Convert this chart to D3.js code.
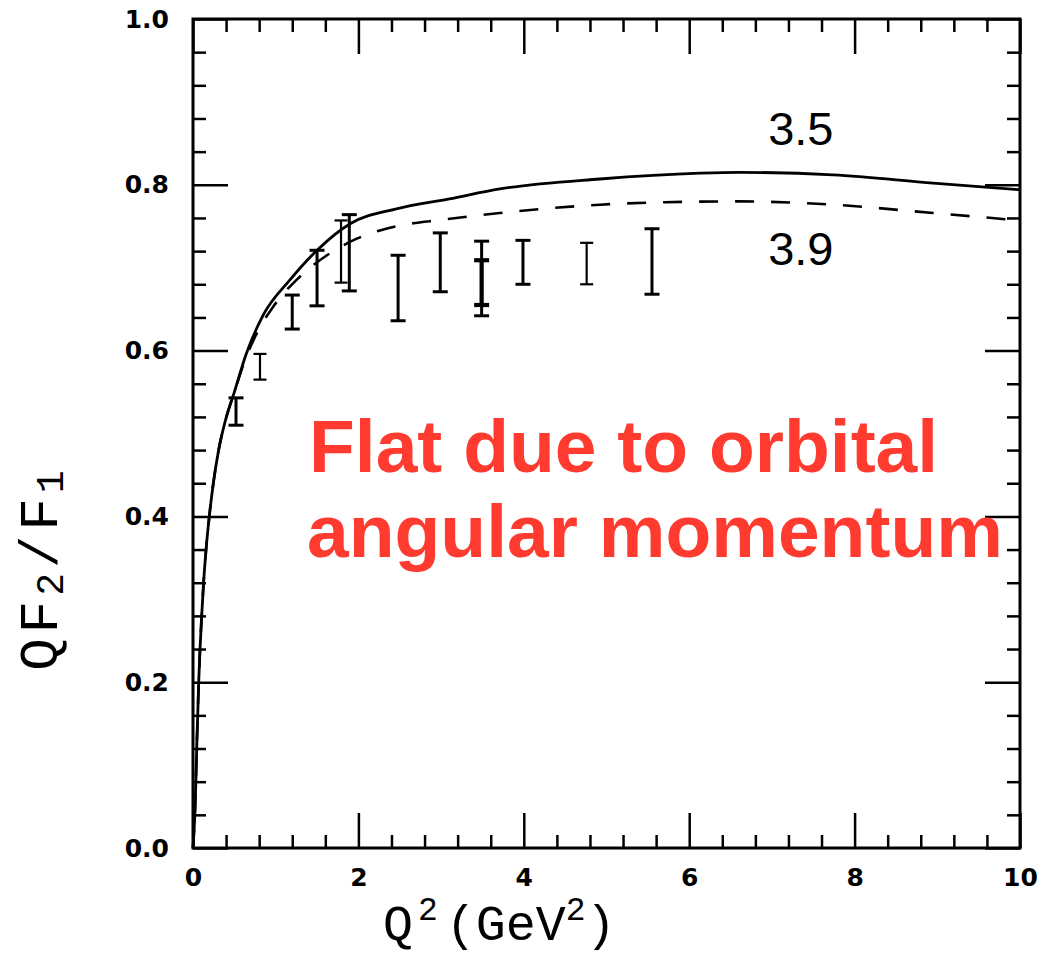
<!DOCTYPE html>
<html>
<head>
<meta charset="utf-8">
<script src="https://cdn.jsdelivr.net/npm/d3@7"></script>
<style>
  body { margin: 0; background: #fff; }
  svg { display: block; }
</style>
</head>
<body>
<svg id="chart" width="1048" height="956"></svg>
<script>
// curve for 3.5 (solid) and 3.9 (dashed): [Q2, QF2/F1]
const curve35 = [
  [0, 0], [0.012, 0.02], [0.024, 0.045], [0.036, 0.085], [0.046, 0.125], [0.057, 0.16],
  [0.069, 0.2], [0.085, 0.24], [0.105, 0.28], [0.128, 0.32], [0.158, 0.36],
  [0.197, 0.4], [0.246, 0.44], [0.31, 0.48], [0.39, 0.515], [0.5, 0.55],
  [0.64, 0.595], [0.85, 0.643], [1.17, 0.685], [1.5, 0.721], [1.9, 0.753],
  [2.46, 0.771], [3.1, 0.783], [3.71, 0.795], [4.92, 0.807], [6.13, 0.814],
  [6.6, 0.815], [7.74, 0.812], [8.95, 0.802], [10, 0.794]
];
const curve39 = [
  [0, 0], [0.012, 0.02], [0.024, 0.045], [0.036, 0.085], [0.046, 0.125], [0.057, 0.16],
  [0.069, 0.2], [0.085, 0.24], [0.105, 0.28], [0.128, 0.32], [0.158, 0.36],
  [0.197, 0.4], [0.246, 0.44], [0.31, 0.48], [0.39, 0.515], [0.5, 0.55],
  [0.65, 0.594], [0.81, 0.628], [0.97, 0.653], [1.29, 0.689], [1.62, 0.715],
  [1.98, 0.735], [2.46, 0.750], [3.03, 0.758], [3.71, 0.766], [4.92, 0.776],
  [5.7, 0.779], [6.6, 0.780], [7.74, 0.776], [8.95, 0.766], [10, 0.757]
];

// data points with error bars
const dataQ2  = [0.52, 0.81, 1.20, 1.50, 1.79, 1.89, 2.48, 2.99, 3.49, 3.49, 3.99, 4.76, 5.55];
const dataLo  = [0.510, 0.565, 0.626, 0.654, 0.682, 0.672, 0.636, 0.671, 0.642, 0.655, 0.680, 0.680, 0.668];
const dataHi  = [0.543, 0.596, 0.667, 0.721, 0.757, 0.764, 0.715, 0.742, 0.732, 0.709, 0.733, 0.730, 0.747];
const dataSet = ["b", "a", "b", "b", "a", "b", "b", "b", "b", "c", "b", "a", "b"];

const xMajor = [0, 2, 4, 6, 8, 10];
const yMajor = [0, 0.2, 0.4, 0.6, 0.8, 1.0];

const curveLabels = ["3.5", "3.9"];

const svg = d3.select("#chart");
const margin = {left: 193, top: 19, right: 28, bottom: 108};
const W = 1048 - margin.left - margin.right;
const H = 956 - margin.top - margin.bottom;

const x = d3.scaleLinear().domain([0, 10]).range([0, W]);
const y = d3.scaleLinear().domain([0, 1]).range([H, 0]);

const g = svg.append("g").attr("transform", `translate(${margin.left},${margin.top})`);

const xMinor = d3.range(0, 10.001, 0.4).filter(v => Math.abs(v / 2 - Math.round(v / 2)) > 1e-6);
const yMinor = d3.range(0, 1.0001, 0.04).filter(v => Math.abs(v / 0.2 - Math.round(v / 0.2)) > 1e-6);

const tickFont = "'DejaVu Sans', sans-serif";

function styleAxis(sel) {
  sel.select(".domain").remove();
  sel.selectAll("line").attr("stroke", "#000").attr("stroke-width", 2.5);
  sel.selectAll("text")
    .attr("font-family", tickFont).attr("font-size", 25).attr("font-weight", "bold")
    .attr("fill", "#000");
}

// bottom
g.append("g").attr("transform", `translate(0,${H})`)
  .call(d3.axisBottom(x).tickValues(xMajor).tickSize(-35).tickPadding(20).tickFormat(d3.format("d")))
  .call(styleAxis);
g.append("g").attr("transform", `translate(0,${H})`)
  .call(d3.axisBottom(x).tickValues(xMinor).tickSize(-13).tickFormat(""))
  .call(styleAxis);
// top
g.append("g")
  .call(d3.axisTop(x).tickValues(xMajor).tickSize(-35).tickFormat(""))
  .call(styleAxis);
g.append("g")
  .call(d3.axisTop(x).tickValues(xMinor).tickSize(-13).tickFormat(""))
  .call(styleAxis);
// left
g.append("g")
  .call(d3.axisLeft(y).tickValues(yMajor).tickSize(-35).tickPadding(24).tickFormat(d3.format(".1f")))
  .call(styleAxis);
g.append("g")
  .call(d3.axisLeft(y).tickValues(yMinor).tickSize(-13).tickFormat(""))
  .call(styleAxis);
// right
g.append("g").attr("transform", `translate(${W},0)`)
  .call(d3.axisRight(y).tickValues(yMajor).tickSize(-35).tickFormat(""))
  .call(styleAxis);
g.append("g").attr("transform", `translate(${W},0)`)
  .call(d3.axisRight(y).tickValues(yMinor).tickSize(-13).tickFormat(""))
  .call(styleAxis);

// frame
g.append("rect")
  .attr("x", 0).attr("y", 0).attr("width", W).attr("height", H)
  .attr("fill", "none").attr("stroke", "#000").attr("stroke-width", 3);

// curves
const line = d3.line()
  .x(d => x(d[0]))
  .y(d => y(d[1]))
  .curve(d3.curveMonotoneX);

g.append("path").datum(curve35)
  .attr("d", line)
  .attr("fill", "none").attr("stroke", "#000").attr("stroke-width", 2.8);

g.append("path").datum(curve39)
  .attr("d", line)
  .attr("fill", "none").attr("stroke", "#000").attr("stroke-width", 2.6)
  .attr("stroke-dasharray", "19,17");

// error bars
const points = dataQ2.map((q, i) => ({q: q, lo: dataLo[i], hi: dataHi[i], set: dataSet[i]}));
const barWidth = s => s === "a" ? 2.2 : (s === "c" ? 4.2 : 3);
const capHalf = s => s === "a" ? 6.5 : 7.5;

const bars = g.append("g").selectAll("g")
  .data(points)
  .join("g")
  .attr("stroke", "#000")
  .attr("stroke-width", d => barWidth(d.set));

bars.append("line")
  .attr("x1", d => x(d.q)).attr("x2", d => x(d.q))
  .attr("y1", d => y(d.lo)).attr("y2", d => y(d.hi));
bars.append("line")
  .attr("x1", d => x(d.q) - capHalf(d.set)).attr("x2", d => x(d.q) + capHalf(d.set))
  .attr("y1", d => y(d.lo)).attr("y2", d => y(d.lo));
bars.append("line")
  .attr("x1", d => x(d.q) - capHalf(d.set)).attr("x2", d => x(d.q) + capHalf(d.set))
  .attr("y1", d => y(d.hi)).attr("y2", d => y(d.hi));

// curve labels
g.append("text")
  .attr("x", x(7.35)).attr("y", y(0.848))
  .attr("text-anchor", "middle")
  .attr("font-family", "'Liberation Sans', Arial, sans-serif")
  .attr("font-size", 47)
  .text(curveLabels[0]);
g.append("text")
  .attr("x", x(7.35)).attr("y", y(0.703))
  .attr("text-anchor", "middle")
  .attr("font-family", "'Liberation Sans', Arial, sans-serif")
  .attr("font-size", 47)
  .text(curveLabels[1]);

// annotation
const note = svg.append("text")
  .attr("font-family", "'Liberation Sans', Arial, sans-serif")
  .attr("font-weight", "bold")
  .attr("font-size", 75)
  .attr("fill", "#ff3b2f");
note.append("tspan").attr("x", 309).attr("y", 472).text("Flat due to orbital");
note.append("tspan").attr("x", 307).attr("y", 557).text("angular momentum");

// x axis title
const monoFont = "'Liberation Mono', 'DejaVu Sans Mono', monospace";
const xt = svg.append("text")
  .attr("x", 383).attr("y", 940)
  .attr("font-family", monoFont)
  .attr("font-size", 50)
  .attr("fill", "#000");
xt.append("tspan").text("Q");
xt.append("tspan").attr("font-size", 33).attr("dx", 5).attr("dy", -20).text("2");
xt.append("tspan").attr("dx", 8).attr("dy", 20).text("(GeV");
xt.append("tspan").attr("font-size", 33).attr("dy", -20).text("2");
xt.append("tspan").attr("dy", 20).text(")");

// y axis title
const yt = svg.append("text")
  .attr("transform", "translate(57,568) rotate(-90)")
  .attr("text-anchor", "middle")
  .attr("font-family", monoFont)
  .attr("font-size", 54)
  .attr("letter-spacing", 5)
  .attr("fill", "#000");
yt.append("tspan").text("QF");
yt.append("tspan").attr("font-size", 38).attr("dy", 6).text("2");
yt.append("tspan").attr("dy", -6).text("/F");
yt.append("tspan").attr("font-size", 38).attr("dy", 6).text("1");
</script>
</body>
</html>
